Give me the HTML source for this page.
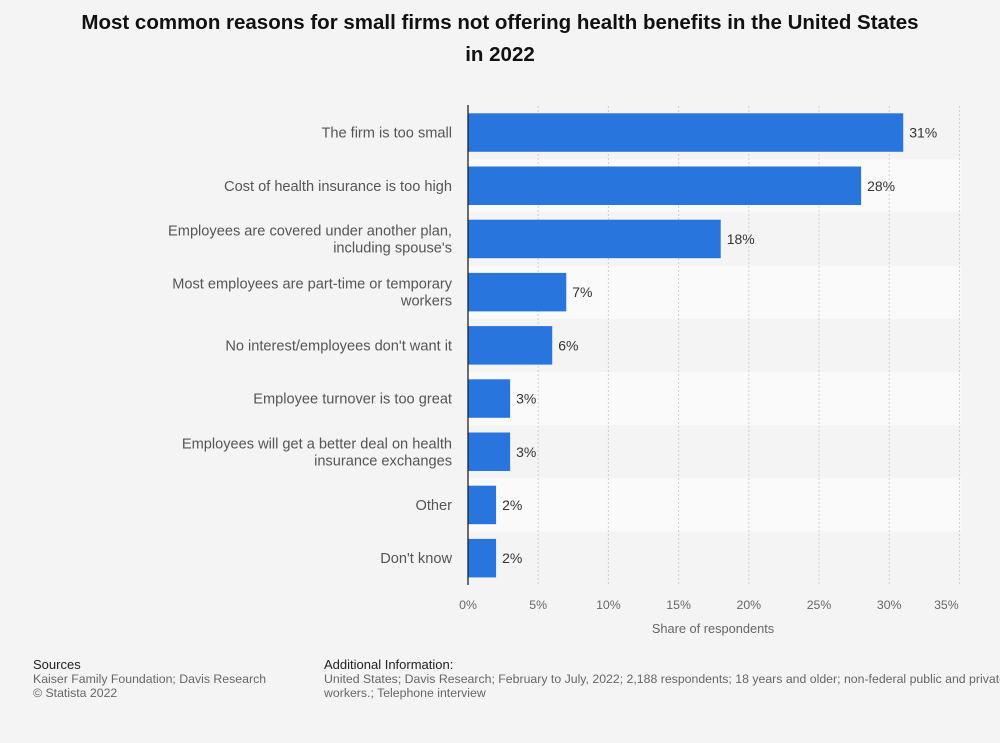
<!DOCTYPE html>
<html><head><meta charset="utf-8"><style>
body{margin:0;background:#f4f4f4;font-family:"Liberation Sans",sans-serif;}
#wrap{position:relative;width:1000px;height:743px;background:#f4f4f4;overflow:hidden}
h1{position:absolute;top:7px;left:0;width:1000px;margin:0;text-align:center;font-size:20.5px;font-weight:bold;color:#111;line-height:32px}
.foot{position:absolute;font-size:12.3px;color:#666;line-height:14px}
.foot b{font-weight:normal;color:#222;font-size:13px}
</style></head><body>
<div id="wrap">
<h1>Most common reasons for small firms not offering health benefits in the United States<br>in 2022</h1>
<svg id="chart" width="1000" height="743" style="position:absolute;left:0;top:0"></svg>
<div class="foot" style="left:33px;top:658px"><b>Sources</b><br>Kaiser Family Foundation; Davis Research<br>© Statista 2022</div>
<div class="foot" style="left:324px;top:658px;width:720px;white-space:nowrap"><b>Additional Information:</b><br>United States; Davis Research; February to July, 2022; 2,188 respondents; 18 years and older; non-federal public and private<br>workers.; Telephone interview</div>
</div>
<script>
const categories=[["The firm is too small"],["Cost of health insurance is too high"],["Employees are covered under another plan,","including spouse's"],["Most employees are part-time or temporary","workers"],["No interest/employees don't want it"],["Employee turnover is too great"],["Employees will get a better deal on health","insurance exchanges"],["Other"],["Don't know"]];
const values=[31,28,18,7,6,3,3,2,2];
const ticks=[0,5,10,15,20,25,30,35];
const svg=document.getElementById('chart');
const NS='http://www.w3.org/2000/svg';
const x0=468,pxPer=14.04,top0=106,rowH=53.2;
const xs=v=>x0+v*pxPer;
const ys=i=>top0+i*rowH;
function mk(t,a){const e=document.createElementNS(NS,t);for(const k in a)e.setAttribute(k,a[k]);svg.appendChild(e);return e;}
categories.forEach((c,i)=>{if(i%2===1){const r=mk('rect',{x:x0,y:ys(i),width:xs(35)-x0+2,height:rowH,fill:'#fafafa'});

}});
ticks.forEach((t,i)=>{if(t===0)return;const l=mk('line',{x1:xs(t),x2:xs(t),y1:top0,y2:585,stroke:'#cfcfcf','stroke-dasharray':'2,2'});

});
ticks.forEach((t,i)=>{let x=xs(t);if(i===ticks.length-1)x-=13;const e=mk('text',{x:x,y:609,'text-anchor':'middle','font-size':12.3,fill:'#666'});e.textContent=t+'%';

});
categories.forEach((c,i)=>{const cy=ys(i)+rowH/2;
const b=mk('rect',{x:x0,y:ys(i)+7.3,width:values[i]*pxPer,height:38.5,fill:'#2876dd'});


const v=mk('text',{x:xs(values[i])+6,y:cy+5,'font-size':14,fill:'#333'});v.textContent=values[i]+'%';


c.forEach((line,j)=>{const t=mk('text',{x:452,y:cy+5+(j-(c.length-1)/2)*17,'text-anchor':'end','font-size':14.6,fill:'#555'});t.textContent=line;

});});
const ax=mk('line',{x1:x0,x2:x0,y1:top0-1,y2:585,stroke:'#222','stroke-width':1.3});


const at=mk('text',{x:713,y:633,'text-anchor':'middle','font-size':12.8,fill:'#666'});at.textContent='Share of respondents';


</script>
</body></html>
